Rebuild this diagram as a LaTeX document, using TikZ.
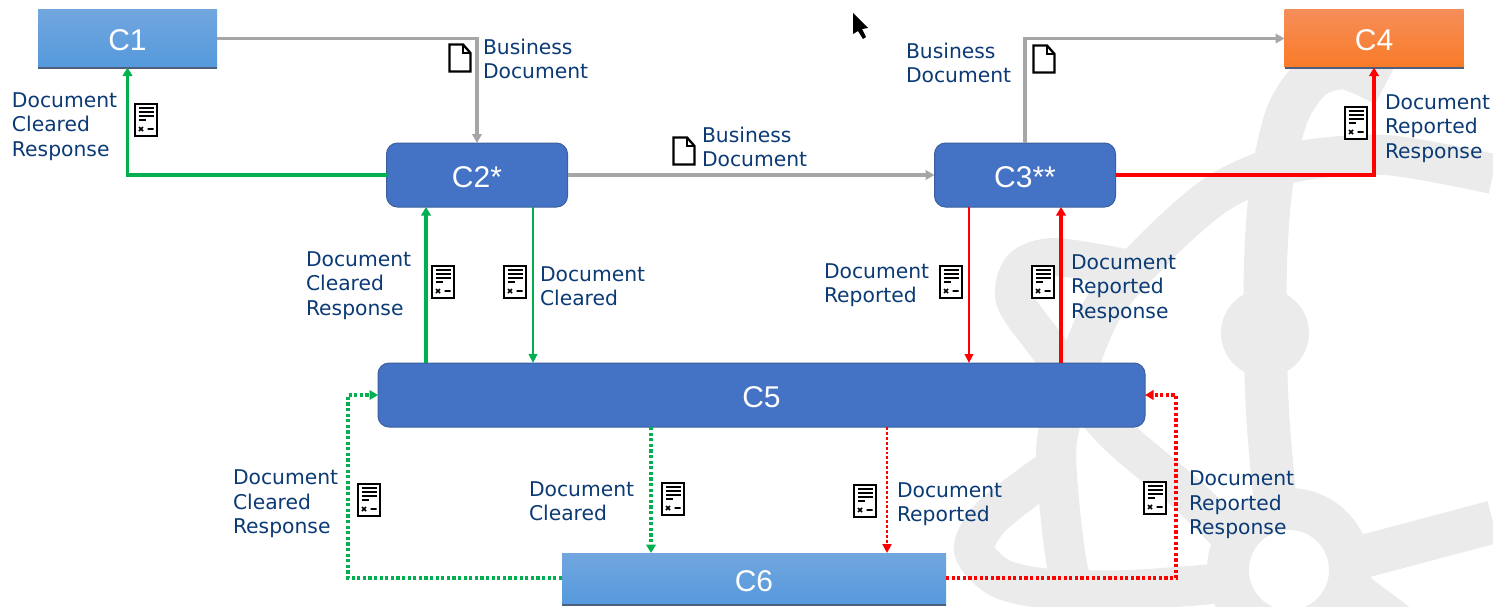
\documentclass[tikz,border=0pt]{standalone}
\usepackage{fontspec}
\setmainfont{DejaVu Sans}
\newfontfamily\boxfont{Liberation Sans}
\usetikzlibrary{arrows.meta}
\definecolor{wm}{HTML}{EBEBEB}
\definecolor{navy}{HTML}{0B3A75}
\definecolor{boxblue}{HTML}{4472C4}
\definecolor{boxedge}{HTML}{3A5F9F}
\definecolor{lineg}{HTML}{A6A6A6}
\definecolor{lineq}{HTML}{00B050}
\definecolor{liner}{HTML}{FF0000}
\definecolor{baseedge}{HTML}{4E5F7D}
\definecolor{gradA}{HTML}{72A6DE}
\definecolor{gradB}{HTML}{5599DD}
\definecolor{gradC}{HTML}{F68E5A}
\definecolor{gradD}{HTML}{F97B27}
\newcommand{\boxtxt}[1]{\raisebox{-12.1pt}[10pt][10pt]{#1}}
\tikzset{
  lbl/.style={anchor=west,inner sep=0pt,outer sep=0pt,align=left,text=navy,font=\fontsize{20.3}{24.5}\selectfont},
  roundbox/.style={rectangle,rounded corners=11pt,fill=boxblue,draw=boxedge,line width=1pt,text=white,inner sep=0pt,outer sep=0pt,font=\boxfont\fontsize{30}{33}\selectfont},
  flatbox/.style={rectangle,inner sep=0pt,outer sep=0pt,text=white,font=\boxfont\fontsize{30}{33}\selectfont},
  bluegrad/.style={flatbox,top color=gradA,bottom color=gradB},
  flowline/.style={-{Triangle[width=9.5pt,length=9pt]},line join=miter,line width=3.4pt},
  plainline/.style={-{Triangle[width=8.5pt,length=9pt]},line width=2.6pt},
  wideline/.style={-{Triangle[width=9.5pt,length=8.5pt]},line width=3.3pt},
  dotwide/.style={-{Triangle[width=9.5pt,length=8.5pt]},line width=3.2pt,dash pattern=on 3.2pt off 2.4pt},
  dotthin/.style={-{Triangle[width=9pt,length=9pt]},line width=2.9pt,dash pattern=on 2.9pt off 2pt},
  band/.style={draw=wm,line width=40pt,line cap=butt},
  docform/.pic={
    \draw[black,fill=white,line width=2.7pt,line join=miter] (-11,-16) rectangle (11,16);
    \draw[black,line width=1.6pt] (-7.5,-12.3)--(7.5,-12.3) (-7.5,-8.2)--(7.5,-8.2) (-7.5,-4)--(7.5,-4);
    \draw[black,line width=2pt] (-7.5,0)--(0,0);
    \draw[black,line width=1.7pt] (-7,7)--(-3,11) (-7,11)--(-3,7) (1.5,9)--(7.5,9);
  },
  docblank/.pic={
    \draw[black,fill=white,line width=2.3pt,line join=miter] (-10.5,-13.5)--(3,-13.5)--(10.5,-5)--(10.5,13.5)--(-10.5,13.5)--cycle;
    \draw[black,line width=1.6pt] (3,-13.5)--(3,-5)--(10.5,-5);
  }
}
\begin{document}
\begin{tikzpicture}[x=1pt,y=-1pt]
\useasboundingbox (0,0) rectangle (1493,606);
\fill[white] (0,0) rectangle (1493,606);
% watermark
\begin{scope}
\clip (0,0) rectangle (1493,606);
\draw[band,line width=43pt] plot[smooth] coordinates {(1276,510) (1268,420) (1265,333) (1266,250) (1272,180) (1287,115) (1312,78) (1345,68) (1385,85)};
\draw[band] plot[smooth] coordinates {(1493,174) (1385,155) (1290,163) (1220,192) (1160,243) (1105,305) (1075,375) (1057,440) (1059,500) (1068,570) (1085,615)};
\draw[band] plot[smooth] coordinates {(1225,583) (1130,590) (1050,589) (1000,578) (974,550) (990,518) (1035,482) (1065,462)};
\draw[band,line width=38pt] plot[smooth] coordinates {(1245,552) (1190,497) (1110,428) (1047,346) (1015,300) (1022,268) (1055,257) (1125,268)};
\draw[wm,line width=43pt] (1365,556)--(1493,522);
\draw[wm,line width=36pt] (1350,585)--(1410,630);
\fill[wm] (1265,333) circle[radius=44];
\fill[wm] (1289,570) circle[radius=82];
\fill[white] (1289,570) circle[radius=40];
\end{scope}
% cursor
\fill[black] (853,13)--(868,28)--(862,29)--(866,37)--(863,39)--(858,31)--(853,34)--cycle;
% boxes
\node[bluegrad,minimum width=179pt,minimum height=58pt] (c1) at (127.5,38.5) {\boxtxt{C1}};
\node[flatbox,top color=gradC,bottom color=gradD,minimum width=179pt,minimum height=58pt] (c4) at (1374,38.5) {\boxtxt{C4}};
\node[bluegrad,minimum width=384pt,minimum height=52pt] (c6) at (754,579) {\boxtxt{C6}};
\node[roundbox,minimum width=181pt,minimum height=64pt] (c2) at (477,175) {\boxtxt{C2*}};
\node[roundbox,minimum width=181pt,minimum height=64pt] (c3) at (1025,175) {\boxtxt{C3**}};
\node[roundbox,minimum width=767pt,minimum height=64pt] (c5) at (761.5,395) {\boxtxt{C5}};
\draw[baseedge,line width=2pt] (c1.south west)--(c1.south east);
\draw[baseedge,line width=2pt] (c4.south west)--(c4.south east);
\draw[baseedge,line width=2.5pt] (c6.south west)--(c6.south east);
% guides
\coordinate (xa) at (426,0);
\coordinate (xb) at (533,0);
\coordinate (xc) at (969,0);
\coordinate (xd) at (1061,0);
\coordinate (xe) at (651,0);
\coordinate (xf) at (887,0);
\coordinate (kl) at (348,0);
\coordinate (kr) at (1176,0);
\coordinate (kd) at (0,578);
% grey
\draw[flowline,lineg] (c1.east) -| (c2.north);
\draw[flowline,lineg] (c2.east) -- (c3.west);
\draw[flowline,lineg] (c3.north) |- (c4.west);
% solid green
\draw[wideline,lineq] (c2.west) -| (c1.south);
\draw[wideline,lineq] (xa |- c5.north) -- (xa |- c2.south);
\draw[plainline,lineq] (xb |- c2.south) -- (xb |- c5.north);
% solid red
\draw[wideline,liner,line width=3.7pt] (c3.east) -| (c4.south);
\draw[plainline,liner] (xc |- c3.south) -- (xc |- c5.north);
\draw[wideline,liner] (xd |- c5.north) -- (xd |- c3.south);
% dotted
\draw[dotwide,lineq] (c6.west |- kd) -- (kl |- kd) -- (kl |- c5.west) -- (c5.west);
\draw[dotwide,liner] (c6.east |- kd) -- (kr |- kd) -- (kr |- c5.east) -- (c5.east);
\draw[dotwide,lineq] (xe |- c5.south) -- (xe |- c6.north);
\draw[dotthin,liner] (xf |- c5.south) -- (xf |- c6.north);
% icons
\pic at (146,120) {docform};
\pic at (443,282) {docform};
\pic at (515,282) {docform};
\pic at (951,282) {docform};
\pic at (1043,282) {docform};
\pic at (1356,123) {docform};
\pic at (369,500) {docform};
\pic at (673,499) {docform};
\pic at (865,501) {docform};
\pic at (1155,498) {docform};
\pic at (460,58) {docblank};
\pic at (684,151) {docblank};
\pic at (1044,59) {docblank};
% labels
\node[lbl] (t1) at (483,59) {Business\\Document};
\node[lbl] (t2) at (702,147) {Business\\Document};
\node[lbl] (t3) at (906,63) {Business\\Document};
\node[lbl] (t4) at (12,126.7) {Document\\Cleared\\Response};
\node[lbl] (t5) at (306,285.7) {Document\\Cleared\\Response};
\node[lbl] (t6) at (233,503.7) {Document\\Cleared\\Response};
\node[lbl] (t7) at (540,286) {Document\\Cleared};
\node[lbl] (t8) at (529,501) {Document\\Cleared};
\node[lbl] (t9) at (824,285) {Document\\Reported};
\node[lbl] (t10) at (897,504) {Document\\Reported};
\node[lbl] (t11) at (1071,288.7) {Document\\Reported\\Response};
\node[lbl] (t12) at (1385,128.7) {Document\\Reported\\Response};
\node[lbl] (t13) at (1189,504.7) {Document\\Reported\\Response};
\end{tikzpicture}
\end{document}
